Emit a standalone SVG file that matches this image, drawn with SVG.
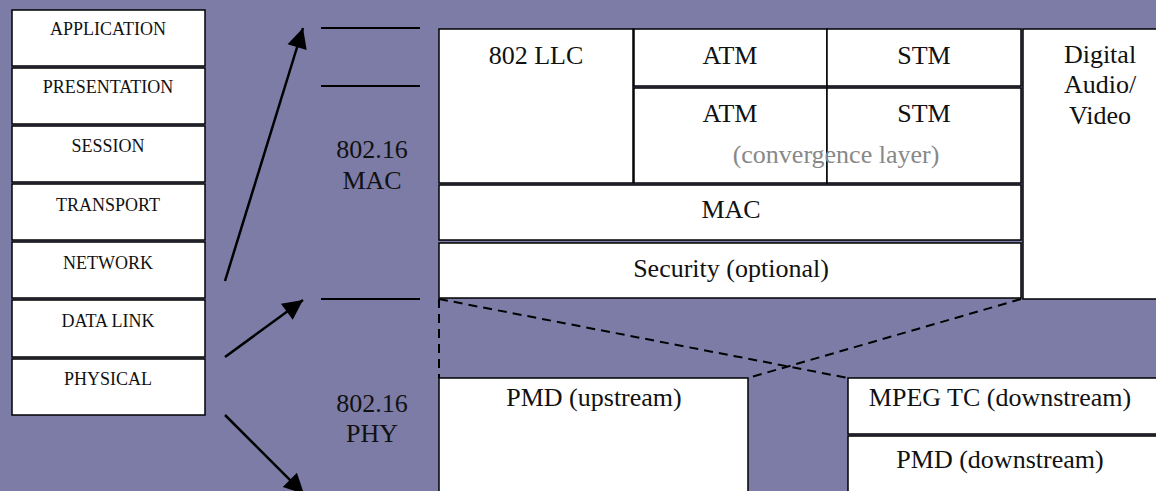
<svg xmlns="http://www.w3.org/2000/svg" width="1156" height="491" viewBox="0 0 1156 491">
<defs>
<style>
.bg{fill:#7c7ca7}
.box{fill:#fff;stroke:#000;stroke-width:1.5}
.osi{font-family:"Liberation Serif","Times New Roman",serif;font-size:18px;fill:#111;text-anchor:middle}
.t{font-family:"Liberation Serif","Times New Roman",serif;font-size:26px;fill:#111;text-anchor:middle}
.g{font-family:"Liberation Serif","Times New Roman",serif;font-size:26px;fill:#888;text-anchor:middle}
.ln{stroke:#000;stroke-width:2;fill:none}
.ar{stroke:#000;stroke-width:2.5;fill:none;marker-end:url(#ah)}
.dash{stroke:#000;stroke-width:2;fill:none;stroke-dasharray:9,6}
</style>
<marker id="ah" viewBox="0 0 10 10" refX="10" refY="5" markerWidth="9.5" markerHeight="8" markerUnits="strokeWidth" orient="auto">
<path d="M0,0 L10,5 L0,10 z" fill="#000"/>
</marker>
</defs>
<rect class="bg" x="0" y="0" width="1156" height="491"/>
<g id="osi-application"><rect class="box" x="12" y="10" width="193" height="56"/><text class="osi" x="108" y="35">APPLICATION</text></g>
<g id="osi-presentation"><rect class="box" x="12" y="68" width="193" height="56"/><text class="osi" x="108" y="93">PRESENTATION</text></g>
<g id="osi-session"><rect class="box" x="12" y="126" width="193" height="56"/><text class="osi" x="108" y="152">SESSION</text></g>
<g id="osi-transport"><rect class="box" x="12" y="184" width="193" height="56"/><text class="osi" x="108" y="211">TRANSPORT</text></g>
<g id="osi-network"><rect class="box" x="12" y="242" width="193" height="56"/><text class="osi" x="108" y="269">NETWORK</text></g>
<g id="osi-datalink"><rect class="box" x="12" y="300" width="193" height="57"/><text class="osi" x="108" y="327">DATA LINK</text></g>
<g id="osi-physical"><rect class="box" x="12" y="359" width="193" height="56"/><text class="osi" x="108" y="385">PHYSICAL</text></g>
<g id="label-mac"><text class="t" x="372" y="158">802.16</text><text class="t" x="372" y="189">MAC</text></g>
<g id="label-phy"><text class="t" x="372" y="412">802.16</text><text class="t" x="372" y="442">PHY</text></g>
<g id="llc"><rect class="box" x="439" y="29" width="194" height="154"/><text class="t" x="536" y="64">802 LLC</text></g>
<g id="atm1"><rect class="box" x="634" y="29" width="193" height="57"/><text class="t" x="730" y="64">ATM</text></g>
<g id="stm1"><rect class="box" x="827" y="29" width="194" height="57"/><text class="t" x="924" y="64">STM</text></g>
<g id="atm2"><rect class="box" x="634" y="88" width="193" height="95"/><text class="t" x="730" y="122">ATM</text></g>
<g id="stm2"><rect class="box" x="827" y="88" width="194" height="95"/><text class="t" x="924" y="122">STM</text></g>
<g id="convergence"><text class="g" x="836" y="163">(convergence layer)</text></g>
<g id="dav"><rect class="box" x="1023" y="29" width="140" height="270"/><text class="t" x="1100" y="63">Digital</text><text class="t" x="1100" y="93">Audio/</text><text class="t" x="1100" y="124">Video</text></g>
<g id="mac"><rect class="box" x="439" y="185" width="582" height="55"/><text class="t" x="731" y="218">MAC</text></g>
<g id="security"><rect class="box" x="439" y="243" width="582" height="55"/><text class="t" x="731" y="277">Security (optional)</text></g>
<g id="pmd-up"><rect class="box" x="439" y="378" width="309" height="120"/><text class="t" x="594" y="406">PMD (upstream)</text></g>
<g id="mpeg-tc"><rect class="box" x="848" y="378" width="315" height="56"/><text class="t" x="1000" y="406">MPEG TC (downstream)</text></g>
<g id="pmd-down"><rect class="box" x="848" y="436" width="315" height="62"/><text class="t" x="1000" y="468">PMD (downstream)</text></g>
<g id="connectors">
<line class="ln" x1="321" y1="28" x2="420" y2="28"/>
<line class="ln" x1="321" y1="86" x2="420" y2="86"/>
<line class="ln" x1="321" y1="299" x2="420" y2="299"/>
<line class="ar" x1="225" y1="281" x2="303" y2="28"/>
<line class="ar" x1="225" y1="357" x2="303" y2="300"/>
<line class="ar" x1="225" y1="415" x2="304" y2="494"/>
<line class="dash" x1="439" y1="299" x2="439" y2="378"/>
<line class="dash" x1="439" y1="299" x2="848" y2="378"/>
<line class="dash" x1="1021" y1="299" x2="748" y2="378"/>
</g>
</svg>
